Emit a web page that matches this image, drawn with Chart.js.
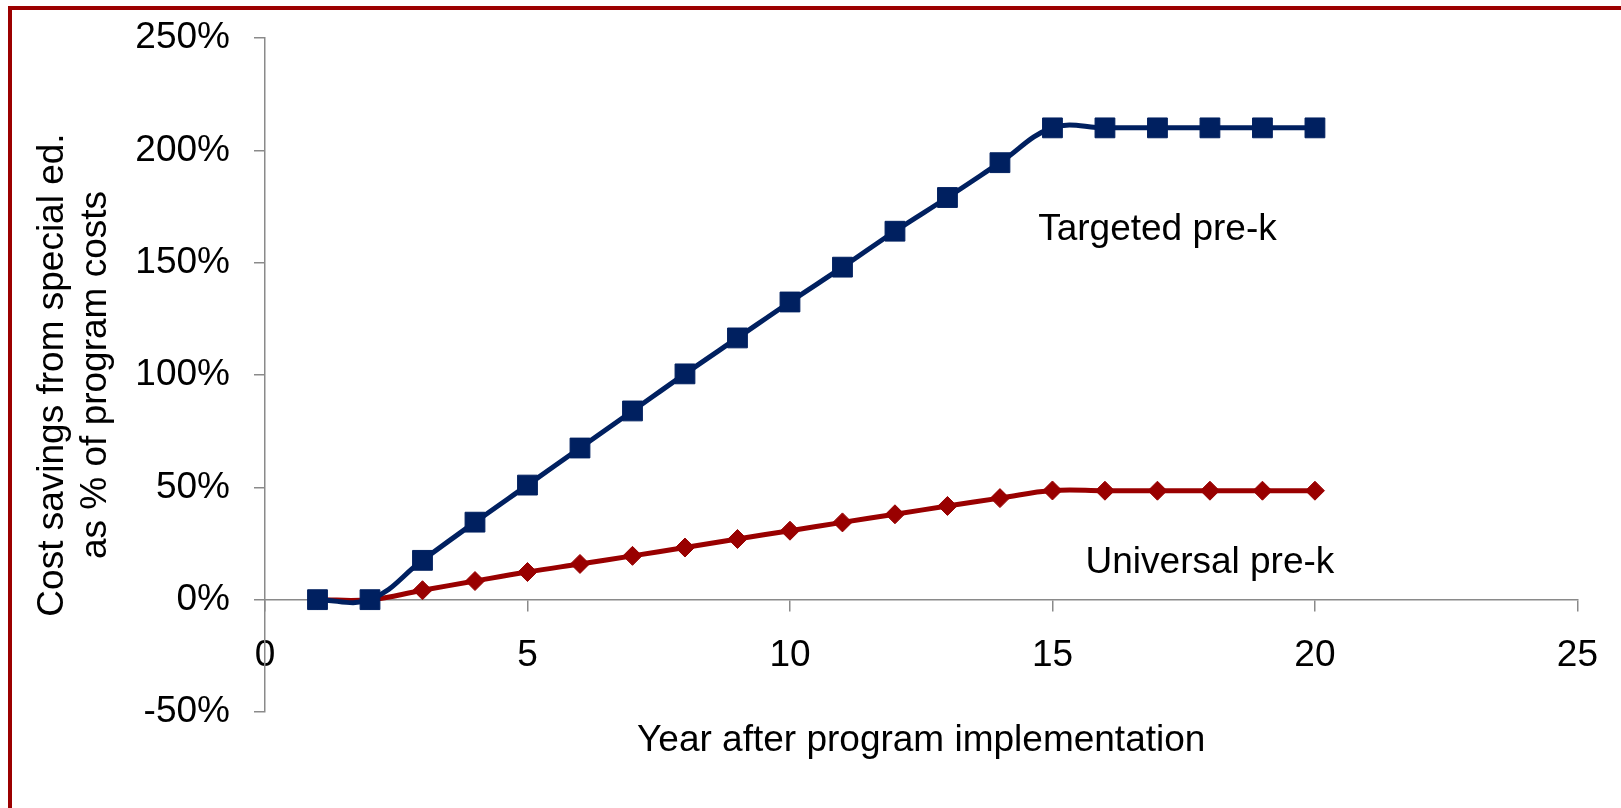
<!DOCTYPE html>
<html>
<head>
<meta charset="utf-8">
<script src="https://cdn.jsdelivr.net/npm/chart.js@4.4.1/dist/chart.umd.min.js"></script>
<style>
    html, body { margin: 0; padding: 0; overflow: hidden; background: #ffffff; }
    #frame {
        position: absolute;
        left: 8px;
        top: 6px;
        width: 1700px;
        height: 900px;
        border: 4px solid #9c0000;
    }
    #myChart { position: absolute; left: 0; top: 0; }
</style>
</head>
<body>
<div id="frame"></div>
<canvas id="myChart" width="1621" height="808"></canvas>
<script>
let years       = [1, 2, 3, 4, 5, 6, 7, 8, 9, 10, 11, 12, 13, 14, 15, 16, 17, 18, 19, 20];
let targeted    = [0, 0, 17.5, 34.5, 51, 67.5, 84, 100.5, 116.5, 132.5, 148, 164, 179, 194.5, 210, 210, 210, 210, 210, 210];
let universal   = [0, 0, 4.2, 8.3, 12.3, 15.9, 19.5, 23.2, 27, 30.7, 34.4, 38, 41.7, 45.2, 48.6, 48.5, 48.5, 48.5, 48.5, 48.5];
let seriesNames = ["Targeted pre-k", "Universal pre-k"];
let yTicks      = [-50, 0, 50, 100, 150, 200, 250];
let xTicks      = [0, 5, 10, 15, 20, 25];
let yTitle      = ["Cost savings from special ed.", "as % of program costs"];
let xTitle      = "Year after program implementation";
// where the series names sit, in data units
let nameAtX     = [17, 18];
let nameAtY     = [160, 12];

let fontFamily  = "'Liberation Sans', Arial, Helvetica, sans-serif";
let axisGray    = "#8a8a8a";

function points(values) {
    return years.map((x, i) => ({ x: x, y: values[i] }));
}

const textPlugin = {
    id: 'texts',
    afterDraw(chart) {
        const c = chart.ctx;
        const area = chart.chartArea;
        const xs = chart.scales.x;
        const ys = chart.scales.y;
        c.save();
        c.fillStyle = '#000000';
        c.font = '37px ' + fontFamily;
        c.textAlign = 'center';
        c.textBaseline = 'alphabetic';
        c.fillText(xTitle, (area.left + area.right) / 2, area.bottom + 39);
        for (let i = 0; i < seriesNames.length; i++) {
            c.fillText(seriesNames[i], xs.getPixelForValue(nameAtX[i]), ys.getPixelForValue(nameAtY[i]));
        }
        c.restore();
    }
};

const ctx = document.getElementById('myChart').getContext('2d');
const myChart = new Chart(ctx, {
    type: 'line',
    data: {
        datasets: [{
            label: seriesNames[0],
            data: points(targeted),
            borderColor: '#002060',
            backgroundColor: '#002060',
            borderWidth: 5,
            tension: 0.4,
            pointStyle: 'rect',
            pointRadius: 14,
            pointBorderWidth: 1,
            pointBackgroundColor: '#002060',
            pointBorderColor: '#002060',
            order: 1
        }, {
            label: seriesNames[1],
            data: points(universal),
            borderColor: '#990000',
            backgroundColor: '#990000',
            borderWidth: 5,
            tension: 0.4,
            pointStyle: 'rectRot',
            pointRadius: 9.5,
            pointBorderWidth: 1,
            pointBackgroundColor: '#990000',
            pointBorderColor: '#990000',
            order: 2
        }]
    },
    options: {
        responsive: false,
        animation: false,
        layout: {
            padding: { left: 0, top: 38, right: 39, bottom: 96 }
        },
        plugins: {
            legend: { display: false },
            tooltip: { enabled: false }
        },
        scales: {
            x: {
                type: 'linear',
                position: { y: 0 },
                min: 0,
                max: 25,
                afterBuildTicks: (scale) => { scale.ticks = xTicks.map(v => ({ value: v })); },
                afterFit: (scale) => { scale.height = 0; },
                border: { display: true, color: axisGray, width: 1.5 },
                grid: { drawOnChartArea: false, drawTicks: true, tickLength: 11, color: axisGray, lineWidth: 1.5 },
                ticks: {
                    color: '#000000',
                    font: { family: fontFamily, size: 37 },
                    padding: 23,
                    maxRotation: 0,
                    autoSkip: false
                }
            },
            y: {
                type: 'linear',
                position: 'left',
                min: -50,
                max: 250,
                afterBuildTicks: (scale) => { scale.ticks = yTicks.map(v => ({ value: v })); },
                afterFit: (scale) => {
                    scale.width = 265;
                    scale.paddingTop = 0;
                    scale.paddingBottom = 0;
                },
                border: { display: true, color: axisGray, width: 1.5 },
                grid: { drawOnChartArea: false, drawTicks: true, tickLength: 11, color: axisGray, lineWidth: 1.5 },
                ticks: {
                    color: '#000000',
                    font: { family: fontFamily, size: 37 },
                    padding: 24,
                    callback: (v) => v + '%'
                },
                title: {
                    display: true,
                    text: yTitle,
                    color: '#000000',
                    font: { family: fontFamily, size: 37, lineHeight: 1.17 },
                    padding: { top: 31, bottom: 0 }
                }
            }
        }
    },
    plugins: [textPlugin]
});
</script>
</body>
</html>
